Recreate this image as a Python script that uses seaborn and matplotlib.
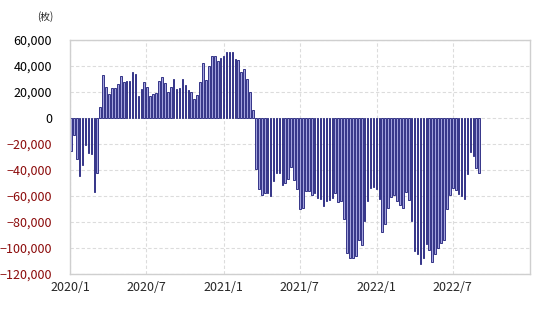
import pandas as pd
import matplotlib
matplotlib.use("Agg")
import matplotlib.pyplot as plt
import matplotlib.dates as mdates
import seaborn as sns

# weekly values (sheets), first week ending 2020-01-03
first_week = "2020-01-03"
n_weeks = 140
positions = [
    -25600, -12800, -31500, -45000, -36000, -21000, -27000, -28000, -57000, -42000,
    8500, 33000, 24000, 18500, 23000, 23000, 26000, 32500, 27500, 28500,
    28500, 35000, 33500, 17000, 22000, 27500, 24000, 17000, 18500, 19000,
    28700, 31500, 27000, 20000, 23500, 30000, 22000, 23300, 30000, 25000,
    21500, 20000, 14600, 17700, 28000, 42000, 29500, 40000, 48000, 48000,
    44000, 46500, 47500, 50500, 51000, 50500, 45000, 44500, 35000, 37700,
    30000, 19700, 6400, -39500, -54400, -59500, -58000, -58000, -60000, -48700,
    -42000, -42300, -51300, -49700, -46700, -37700, -48000, -54400, -70000, -69000,
    -56400, -56000, -59500, -58000, -61500, -62500, -67700, -64000, -63300, -61500,
    -58000, -64600, -64000, -77400, -103600, -107400, -107700, -106000, -93600, -98000,
    -79200, -64000, -53800, -53000, -54400, -62500, -87700, -81300, -69200, -60800,
    -59500, -64000, -66700, -69200, -57000, -63300, -79500, -102600, -104400, -112600,
    -107700, -96700, -101800, -110800, -104400, -100000, -96200, -94100, -70300, -59000,
    -53800, -55600, -58700, -60000, -62500, -43100, -26200, -29500, -38500, -42000,
]
x_tick_dates = ["2020-01-01", "2020-07-01", "2021-01-01", "2021-07-01", "2022-01-01", "2022-07-01"]
x_tick_labels = ["2020/1", "2020/7", "2021/1", "2021/7", "2022/1", "2022/7"]
y_ticks = [-120000, -100000, -80000, -60000, -40000, -20000, 0, 20000, 40000, 60000]
unit_label = "(枚)"

sns.set_style("white")
plt.rcParams["font.family"] = ["Noto Sans CJK JP", "DejaVu Sans"]

weeks = pd.date_range(first_week, periods=n_weeks, freq="7D")
df = pd.DataFrame({"x": mdates.date2num(weeks), "value": positions})

fig = plt.figure(figsize=(5.4, 3.09), dpi=100)
ax = fig.add_axes([0.1296, 0.1133, 0.8519, 0.7573])

sns.barplot(data=df, x="x", y="value", native_scale=True, width=0.55,
            color="#9a9ae6", edgecolor="#1c1c78", linewidth=0.6,
            errorbar=None, ax=ax)

ax.set_xlim(mdates.date2num(pd.Timestamp("2020-01-01")),
            mdates.date2num(pd.Timestamp("2023-01-01")))
ax.set_ylim(-120000, 60000)

ax.set_xticks(mdates.date2num(pd.to_datetime(x_tick_dates)))
ax.set_xticklabels(x_tick_labels)
ax.set_yticks(y_ticks)
ax.set_yticklabels([f"{v:,}".replace("-", "\u2212") for v in y_ticks])
for lbl, v in zip(ax.get_yticklabels(), y_ticks):
    lbl.set_color("#8b0a0a" if v < 0 else "black")

ax.tick_params(axis="both", length=0, labelsize=9)
ax.tick_params(axis="y", pad=13)
ax.tick_params(axis="x", pad=5)
ax.set_xlabel("")
ax.set_ylabel("")

ax.grid(True, linestyle=(0, (3, 2)), color="#dcdcdc", linewidth=0.8)
ax.set_axisbelow(True)
for s in ax.spines.values():
    s.set_color("#cfcfcf")
    s.set_linewidth(1.0)

fig.text(0.068, 0.945, unit_label, fontsize=7, ha="left", va="center")

fig.savefig("out.png", dpi=100)
